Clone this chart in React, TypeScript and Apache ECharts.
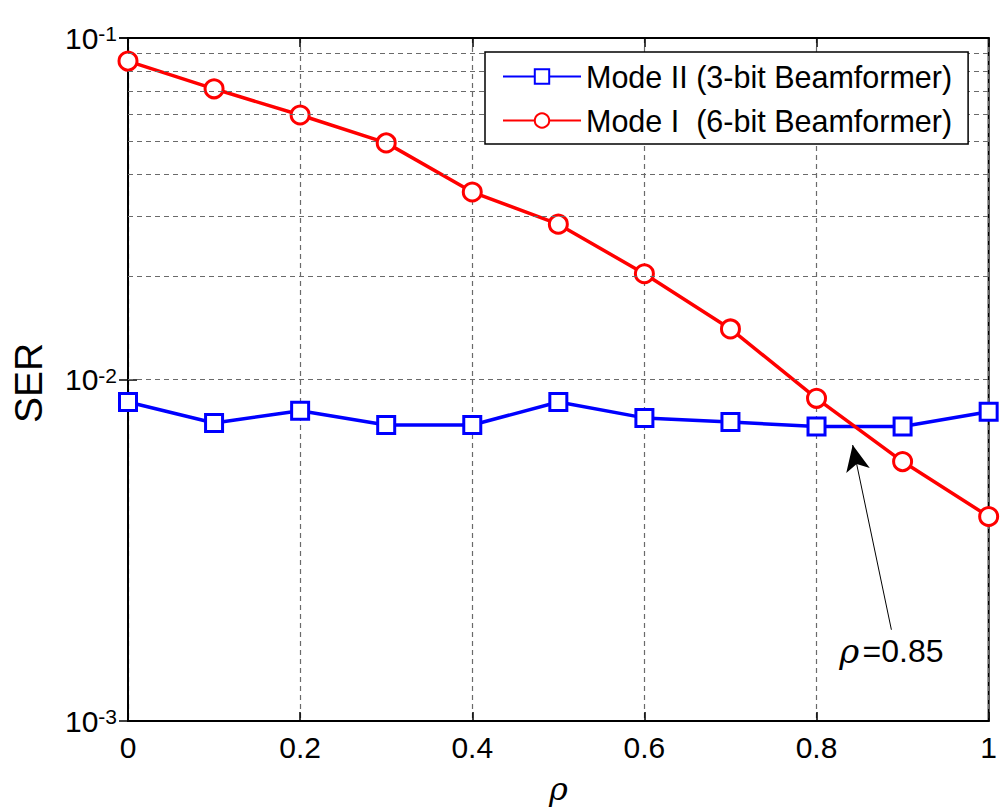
import React, { useEffect, useRef } from "react";
import * as echarts from "echarts";

const rho = [0, 0.1, 0.2, 0.3, 0.4, 0.5, 0.6, 0.7, 0.8, 0.9, 1.0];
const modeII = [0.00859, 0.00746, 0.0081, 0.00736, 0.00736, 0.00859, 0.00772, 0.00751, 0.00728, 0.00728, 0.00805];
const modeI = [0.0856, 0.071, 0.0595, 0.0493, 0.0354, 0.0285, 0.0204, 0.01406, 0.00881, 0.00575, 0.00397];
const gridValues = [
  0.002, 0.003, 0.004, 0.005, 0.006, 0.007, 0.008, 0.009, 0.01,
  0.02, 0.03, 0.04, 0.05, 0.06, 0.07, 0.08, 0.09,
];
const arrowTail = [0.887, 0.00185];
const arrowTip = [0.842, 0.00643];
const notePos = [0.887, 0.0016];
const seriesNames = ["Mode II (3-bit Beamformer)", "Mode I  (6-bit Beamformer)"];

const FONT = "'Liberation Sans', Arial, sans-serif";

export default function App() {
  const ref = useRef<HTMLDivElement>(null);
  useEffect(() => {
    if (!ref.current) return;
    const chart = echarts.init(ref.current, null, { renderer: "svg" });
    const dash = [5, 4];
    const gridColor = "#6a6a6a";
    chart.setOption({
      animation: false,
      backgroundColor: "#fff",
      textStyle: { fontFamily: FONT },
      grid: {
        left: 128,
        right: 5,
        top: 38,
        bottom: 89,
        show: true,
        borderColor: "#000",
        borderWidth: 2,
        backgroundColor: "#fff",
      },
      legend: {
        data: seriesNames,
        orient: "vertical",
        left: 485,
        top: 52,
        itemWidth: 78,
        itemHeight: 18,
        itemGap: 13,
        padding: [9, 16, 8, 17],
        borderColor: "#000",
        borderWidth: 1.5,
        backgroundColor: "#fff",
        textStyle: { fontSize: 30.5, color: "#000", fontFamily: FONT },
        z: 10,
      },
      graphic: [
        {
          type: "text",
          x: 28,
          y: 383,
          rotation: Math.PI / 2,
          style: {
            text: "SER",
            fontSize: 39,
            fontFamily: FONT,
            fill: "#000",
            align: "center",
            verticalAlign: "middle",
          },
          z: 20,
        },
      ],
      xAxis: [
        {
          type: "value",
          min: 0,
          max: 1,
          interval: 0.2,
          name: "ρ",
          nameLocation: "middle",
          nameGap: 52,
          nameTextStyle: { fontSize: 32, fontStyle: "italic", color: "#000", fontFamily: "'DejaVu Serif', serif" },
          axisLine: { show: true, lineStyle: { color: "#000", width: 2 } },
          axisTick: { show: true, inside: true, length: 9, lineStyle: { color: "#000", width: 1.5 } },
          axisLabel: {
            fontSize: 30,
            color: "#000",
            margin: 11,
            fontFamily: FONT,
            formatter: (v: number) => (Math.abs(v - 1) < 1e-9 ? "1" : Math.abs(v) < 1e-9 ? "0" : v.toFixed(1)),
          },
          splitLine: { show: true, lineStyle: { color: gridColor, type: dash, width: 1.2 } },
        },
        {
          type: "value",
          position: "top",
          min: 0,
          max: 1,
          interval: 0.2,
          axisLine: { show: true, lineStyle: { color: "#000", width: 2 } },
          axisTick: { show: true, inside: true, length: 9, lineStyle: { color: "#000", width: 1.5 } },
          axisLabel: { show: false },
          splitLine: { show: false },
        },
      ],
      yAxis: [
        {
          type: "log",
          logBase: 10,
          min: 0.001,
          max: 0.1,
          axisLine: { show: true, lineStyle: { color: "#000", width: 2 } },
          axisTick: { show: true, inside: true, length: 9, lineStyle: { color: "#000", width: 1.5 } },
          axisLabel: {
            color: "#000",
            margin: 11,
            formatter: (v: number) => `{b|10}{s|${Math.round(Math.log10(v))}}`,
            rich: {
              b: { fontSize: 30, color: "#000", fontFamily: FONT, verticalAlign: "middle", lineHeight: 30 },
              s: { fontSize: 21, color: "#000", fontFamily: FONT, verticalAlign: "top", lineHeight: 21, padding: [0, 0, 26, 0] },
            },
          },
          splitLine: { show: false },
        },
        {
          type: "log",
          logBase: 10,
          min: 0.001,
          max: 0.1,
          position: "right",
          axisLine: { show: true, lineStyle: { color: "#000", width: 2 } },
          axisTick: { show: true, inside: true, length: 9, lineStyle: { color: "#000", width: 1.5 } },
          axisLabel: { show: false },
          splitLine: { show: false },
        },
      ],
      series: [
        {
          name: "grid",
          type: "line",
          data: [],
          z: 1,
          silent: true,
          markLine: {
            silent: true,
            symbol: "none",
            label: { show: false },
            lineStyle: { color: gridColor, type: dash, width: 1.2 },
            data: gridValues.map((v) => ({ yAxis: v })),
          },
        },
        {
          name: seriesNames[0],
          type: "line",
          data: rho.map((x, i) => [x, modeII[i]]),
          z: 3,
          symbol: "rect",
          symbolSize: 17,
          lineStyle: { color: "#0000ff", width: 3.5 },
          itemStyle: { color: "#fff", borderColor: "#0000ff", borderWidth: 3 },
        },
        {
          name: seriesNames[1],
          type: "line",
          data: rho.map((x, i) => [x, modeI[i]]),
          z: 4,
          symbol: "circle",
          symbolSize: 18,
          lineStyle: { color: "#ff0000", width: 3.5 },
          itemStyle: { color: "#fff", borderColor: "#ff0000", borderWidth: 3 },
          markLine: {
            silent: true,
            label: { show: false },
            lineStyle: { color: "#000", type: "solid", width: 1 },
            symbolSize: [18, 26],
            data: [
              [
                { coord: arrowTail, symbol: "none" },
                { coord: arrowTip, symbol: "arrow" },
              ],
            ],
          },
          markPoint: {
            silent: true,
            symbol: "circle",
            symbolSize: 1,
            itemStyle: { color: "rgba(0,0,0,0)", borderWidth: 0 },
            label: {
              show: true,
              position: "inside",
              formatter: "{i|ρ}{g| }{n|=0.85}",
              rich: {
                i: { fontSize: 34, fontStyle: "italic", color: "#000", fontFamily: "'DejaVu Serif', serif" },
                g: { fontSize: 12, color: "#000" },
                n: { fontSize: 32, color: "#000", fontFamily: FONT },
              },
            },
            data: [{ coord: notePos }],
          },
        },
      ],
    });
    return () => chart.dispose();
  }, []);
  return <div ref={ref} style={{ position: "fixed", left: 0, top: 0, width: 1000, height: 810 }} />;
}
